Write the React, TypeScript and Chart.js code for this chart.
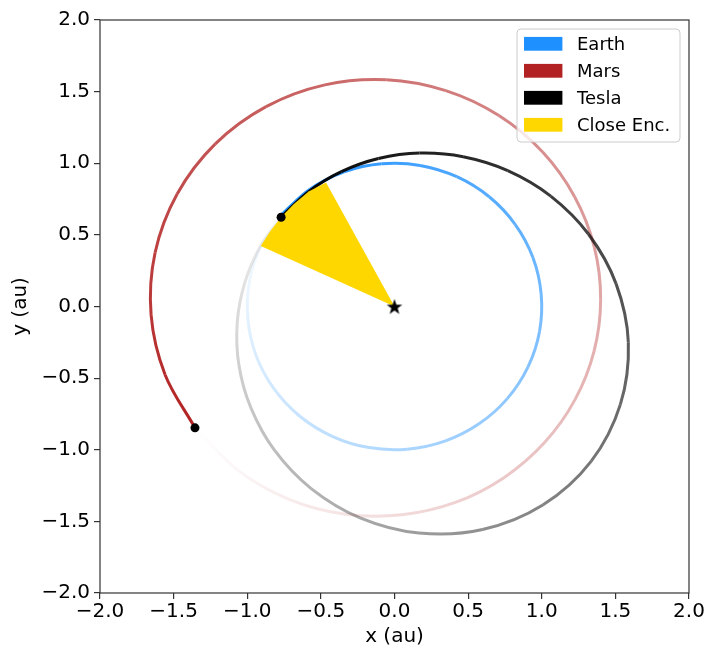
import React, { useEffect, useRef } from 'react';
import { Chart, registerables } from 'chart.js';

Chart.register(...registerables);

// ---- data (au), oldest point first, last point = current position ----
const earthX = [-0.766, -0.906, -0.985, -0.996, -0.940, -0.819, -0.643, -0.423, -0.174, 0.087, 0.342, 0.574, 0.766, 0.906, 0.985, 0.996, 0.940, 0.819, 0.643, 0.423, 0.174, -0.087, -0.342, -0.574, -0.766];
const earthY = [0.643, 0.423, 0.174, -0.087, -0.342, -0.574, -0.766, -0.906, -0.985, -0.996, -0.940, -0.819, -0.643, -0.423, -0.174, 0.087, 0.342, 0.574, 0.766, 0.906, 0.985, 0.996, 0.940, 0.819, 0.643];

const marsX = [-1.355, -1.065, -0.716, -0.335, 0.051, 0.418, 0.746, 1.019, 1.225, 1.355, 1.400, 1.357, 1.224, 1.006, 0.709, 0.348, -0.055, -0.473, -0.872, -1.217, -1.476, -1.626, -1.653, -1.558, -1.355];
const marsY = [-0.847, -1.142, -1.346, -1.450, -1.454, -1.366, -1.193, -0.950, -0.652, -0.313, 0.049, 0.415, 0.765, 1.078, 1.333, 1.507, 1.583, 1.547, 1.395, 1.135, 0.785, 0.375, -0.058, -0.476, -0.847];

const teslaX = [-0.770, -0.917, -1.018, -1.068, -1.057, -0.975, -0.814, -0.566, -0.234, 0.166, 0.598, 1.007, 1.335, 1.534, 1.588, 1.505, 1.317, 1.061, 0.769, 0.466, 0.170, -0.109, -0.361, -0.583, -0.770];
const teslaY = [0.623, 0.408, 0.161, -0.112, -0.406, -0.708, -1.005, -1.271, -1.475, -1.581, -1.557, -1.386, -1.081, -0.683, -0.251, 0.158, 0.506, 0.771, 0.949, 1.046, 1.071, 1.033, 0.941, 0.802, 0.623];

const encounterX = [0, -0.908, -0.843, -0.770, -0.687, -0.583, -0.465, 0];
const encounterY = [0, 0.423, 0.527, 0.623, 0.712, 0.802, 0.865, 0];

const marsNow = [-1.355, -0.847];
const teslaNow = [-0.770, 0.623];
const sunPos = [0, 0];

const axisTicks = [-2.0, -1.5, -1.0, -0.5, 0.0, 0.5, 1.0, 1.5, 2.0];
const seriesLabels = ['Earth', 'Mars', 'Tesla', 'Close Enc.'];
const seriesColors = ['#1E90FF', '#B22222', '#000000', '#FFD700'];

const FONT = "'DejaVu Sans', 'Liberation Sans', sans-serif";

const pts = (xs: number[], ys: number[]) => xs.map((x, i) => ({ x, y: ys[i] }));

function hexRgb(h: string) {
  const n = parseInt(h.slice(1), 16);
  return [(n >> 16) & 255, (n >> 8) & 255, n & 255];
}

// alpha grows along the path, from a0 at the oldest point to 1 at the newest
function fade(color: string, a0: number, xs: number[], ys: number[]) {
  const [r, g, b] = hexRgb(color);
  const cum = [0];
  for (let i = 1; i < xs.length; i++) {
    cum.push(cum[i - 1] + Math.hypot(xs[i] - xs[i - 1], ys[i] - ys[i - 1]));
  }
  const total = cum[cum.length - 1];
  const alpha = (i: number) => a0 + ((1 - a0) * cum[i]) / total;
  return (ctx: any) => {
    const al0 = alpha(ctx.p0DataIndex);
    const al1 = alpha(ctx.p1DataIndex);
    const grad = ctx.chart.ctx.createLinearGradient(ctx.p0.x, ctx.p0.y, ctx.p1.x, ctx.p1.y);
    grad.addColorStop(0, `rgba(${r},${g},${b},${al0})`);
    grad.addColorStop(1, `rgba(${r},${g},${b},${al1})`);
    return grad;
  };
}

const fmt = (v: number) => {
  const s = Math.abs(v).toFixed(1);
  return v < -1e-9 ? '\u2212' + s : s;
};

const polyFillPlugin = {
  id: 'polyFill',
  beforeDatasetDraw(chart: any, args: any) {
    const ds = chart.data.datasets[args.index];
    if (!ds.polyFill) return;
    const meta = chart.getDatasetMeta(args.index);
    const c = chart.ctx;
    c.save();
    c.beginPath();
    meta.data.forEach((p: any, i: number) => {
      if (i === 0) c.moveTo(p.x, p.y);
      else c.lineTo(p.x, p.y);
    });
    c.closePath();
    c.fillStyle = ds.polyFill;
    c.fill();
    c.restore();
  },
};

const framePlugin = {
  id: 'frame',
  afterDatasetsDraw(chart: any) {
    const { ctx, chartArea: a } = chart;
    ctx.save();
    ctx.strokeStyle = '#333';
    ctx.lineWidth = 1.2;
    ctx.strokeRect(a.left, a.top, a.right - a.left, a.bottom - a.top);
    ctx.restore();
  },
};

const legendPlugin = {
  id: 'boxLegend',
  afterDraw(chart: any) {
    const { ctx, chartArea: a } = chart;
    const w = 163;
    const h = 113;
    const x = a.right - 9 - w;
    const y = a.top + 9;
    const r = 4;
    ctx.save();
    ctx.beginPath();
    ctx.moveTo(x + r, y);
    ctx.lineTo(x + w - r, y);
    ctx.quadraticCurveTo(x + w, y, x + w, y + r);
    ctx.lineTo(x + w, y + h - r);
    ctx.quadraticCurveTo(x + w, y + h, x + w - r, y + h);
    ctx.lineTo(x + r, y + h);
    ctx.quadraticCurveTo(x, y + h, x, y + h - r);
    ctx.lineTo(x, y + r);
    ctx.quadraticCurveTo(x, y, x + r, y);
    ctx.closePath();
    ctx.fillStyle = 'rgba(255,255,255,0.8)';
    ctx.fill();
    ctx.strokeStyle = '#cccccc';
    ctx.lineWidth = 1;
    ctx.stroke();
    ctx.font = `18px ${FONT}`;
    ctx.textBaseline = 'alphabetic';
    ctx.textAlign = 'left';
    seriesLabels.forEach((lab, i) => {
      const cy = y + 14.8 + 27 * i;
      ctx.fillStyle = seriesColors[i];
      ctx.fillRect(x + 7, cy - 6.9, 38.4, 13.8);
      ctx.fillStyle = '#000';
      ctx.fillText(lab, x + 60, cy + 6.6);
    });
    ctx.restore();
  },
};

function makeStar() {
  const cv = document.createElement('canvas');
  cv.width = 20;
  cv.height = 20;
  const c = cv.getContext('2d')!;
  c.beginPath();
  for (let k = 0; k < 10; k++) {
    const rad = k % 2 === 0 ? 8.2 : 3.3;
    const ang = -Math.PI / 2 + (k * Math.PI) / 5;
    const px = 10 + rad * Math.cos(ang);
    const py = 10.8 + rad * Math.sin(ang);
    if (k === 0) c.moveTo(px, py);
    else c.lineTo(px, py);
  }
  c.closePath();
  c.fillStyle = '#000';
  c.fill();
  return cv;
}

export default function App() {
  const ref = useRef<HTMLCanvasElement | null>(null);

  useEffect(() => {
    if (!ref.current) return;
    const star = makeStar();
    const trail = (xs: number[], ys: number[], color: string, a0: number, order: number, label: string) => ({
      label,
      data: pts(xs, ys),
      showLine: true,
      borderWidth: 3,
      borderColor: color,
      pointRadius: 0,
      tension: 0.34,
      fill: false,
      order,
      segment: { borderColor: fade(color, a0, xs, ys) },
    });
    const dot = (p: number[], order: number, extra: any = {}) => ({
      label: '',
      data: [{ x: p[0], y: p[1] }],
      showLine: false,
      pointRadius: 4.5,
      pointBackgroundColor: '#000',
      pointBorderWidth: 0,
      order,
      ...extra,
    });

    const scaleCommon = (title: string, isX: boolean) => ({
      type: 'linear' as const,
      min: -2,
      max: 2,
      afterBuildTicks: (s: any) => {
        s.ticks = axisTicks.map((v) => ({ value: v }));
      },
      afterFit: (s: any) => {
        if (isX) {
          s.height = 56;
          s.paddingLeft = 0;
          s.paddingRight = 0;
        } else {
          s.width = 100;
          s.paddingTop = 0;
          s.paddingBottom = 0;
        }
      },
      ticks: {
        autoSkip: false,
        maxRotation: 0,
        padding: isX ? 1 : 4,
        color: '#000',
        font: { family: FONT, size: 20 },
        callback: (v: any) => fmt(Number(v)),
      },
      grid: {
        drawOnChartArea: false,
        drawTicks: true,
        tickLength: 6,
        color: '#333',
        lineWidth: 1.2,
      },
      border: { display: false },
      title: {
        display: true,
        text: title,
        color: '#000',
        font: { family: FONT, size: 20 },
        padding: isX ? { top: 0, bottom: 0 } : { top: 9, bottom: 0 },
      },
    });

    const chart = new Chart(ref.current, {
      type: 'line',
      data: {
        datasets: [
          trail(earthX, earthY, seriesColors[0], 0, 6, seriesLabels[0]),
          trail(marsX, marsY, seriesColors[1], 0, 5, seriesLabels[1]),
          trail(teslaX, teslaY, seriesColors[2], 0.06, 4, seriesLabels[2]),
          {
            label: seriesLabels[3],
            data: pts(encounterX, encounterY),
            showLine: false,
            pointRadius: 0,
            borderWidth: 0,
            polyFill: seriesColors[3],
            order: 3,
          } as any,
          dot(marsNow, 2),
          dot(teslaNow, 1),
          dot(sunPos, 0, { pointStyle: star, pointRadius: 10, pointBorderColor: 'rgba(0,0,0,0)' }),
        ],
      },
      options: {
        responsive: false,
        animation: false,
        events: [],
        layout: { padding: { top: 20, right: 19, left: 0, bottom: 0 } },
        plugins: {
          legend: { display: false },
          tooltip: { enabled: false },
        },
        scales: {
          x: scaleCommon('x (au)', true),
          y: scaleCommon('y (au)', false),
        },
      } as any,
      plugins: [polyFillPlugin, framePlugin, legendPlugin],
    });
    return () => chart.destroy();
  }, []);

  return (
    <div style={{ position: 'fixed', left: 0, top: 0, width: 708, height: 649, background: '#fff' }}>
      <canvas ref={ref} width={708} height={649} style={{ display: 'block', width: 708, height: 649 }} />
    </div>
  );
}
